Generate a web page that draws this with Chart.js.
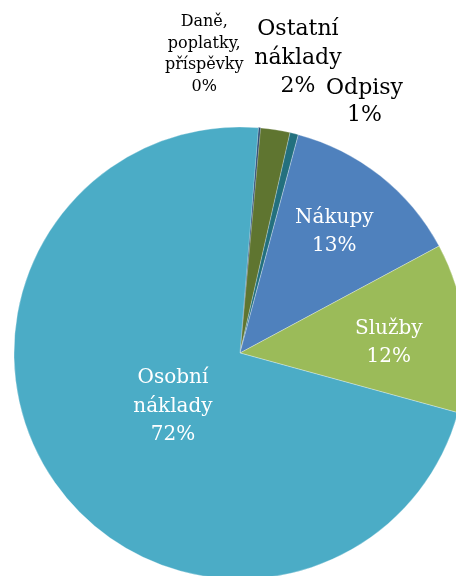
<!DOCTYPE html>
<html>
<head>
<meta charset="utf-8">
<script src="https://cdn.jsdelivr.net/npm/chart.js@4/dist/chart.umd.min.js"></script>
<style>
  html, body { margin: 0; padding: 0; background: #fff; overflow: hidden; }
  #wrap { position: absolute; left: 0; top: 0; width: 480px; height: 706px; }
</style>
</head>
<body>
<div id="wrap"><canvas id="myChart" width="480" height="706"></canvas></div>
<script>
// Kategorie nákladů (v pořadí po směru hodinových ručiček od vrcholu)
const categories = [
    ["Daně,", "poplatky,", "příspěvky"],
    ["Ostatní", "náklady"],
    ["Odpisy"],
    ["Nákupy"],
    ["Služby"],
    ["Osobní", "náklady"]
];
// Podíly v procentech
const shares = [0.15, 2.1, 0.6, 13.0, 12.1, 72.05];
const percentLabels = ["0%", "2%", "1%", "13%", "12%", "72%"];

const sliceColors = ["#2C4D75", "#5F7530", "#23707E", "#4F81BD", "#9BBB59", "#4BACC6"];
const borderColors = ["#2C4D75", "rgba(255,255,255,0.5)", "rgba(255,255,255,0.5)",
                      "rgba(255,255,255,0.6)", "rgba(255,255,255,0.6)", "rgba(255,255,255,0.6)"];

// Umístění popisků: posun úhlu (stupně), poloměr (násobek), písmo, barva
const labelPlacement = [
    { dAngle: -11.8, r: 1.33, size: 16, lh: 21.5, color: "#000" },
    { dAngle: 2.1, r: 1.33, size: 22, lh: 28.5, color: "#000" },
    { dAngle: 12.5, r: 1.24, size: 22, lh: 27, color: "#000" },
    { dAngle: -0.5, r: 0.68, size: 20, lh: 28, color: "#fff" },
    { dAngle: 2.4, r: 0.66, size: 20, lh: 28, color: "#fff" },
    { dAngle: -3.7, r: 0.38, size: 20, lh: 28.5, color: "#fff" }
];

const labelPlugin = {
    id: "sliceLabels",
    afterDatasetsDraw(chart) {
        const ctx = chart.ctx;
        const arcs = chart.getDatasetMeta(0).data;
        arcs.forEach((arc, i) => {
            const p = labelPlacement[i];
            const mid = (arc.startAngle + arc.endAngle) / 2 + p.dAngle * Math.PI / 180;
            const rad = arc.outerRadius * p.r;
            const x = arc.x + Math.cos(mid) * rad;
            const y = arc.y + Math.sin(mid) * rad;
            const lines = categories[i].concat([percentLabels[i]]);
            ctx.save();
            ctx.fillStyle = p.color;
            ctx.font = p.size + "px 'DejaVu Serif', serif";
            ctx.textAlign = "center";
            ctx.textBaseline = "middle";
            const top = y - (lines.length - 1) * p.lh / 2;
            lines.forEach((t, k) => ctx.fillText(t, x, top + k * p.lh));
            ctx.restore();
        });
    }
};

const ctx = document.getElementById("myChart");
new Chart(ctx.getContext("2d"), {
    type: "pie",
    data: {
        labels: categories.map(c => c.join(" ")),
        datasets: [{
            data: shares,
            backgroundColor: sliceColors,
            borderColor: borderColors,
            borderWidth: 0.5
        }]
    },
    options: {
        responsive: false,
        animation: false,
        rotation: 4.7,
        radius: 226,
        plugins: {
            legend: { display: false },
            tooltip: { enabled: false }
        }
    },
    plugins: [labelPlugin]
});
</script>
</body>
</html>
